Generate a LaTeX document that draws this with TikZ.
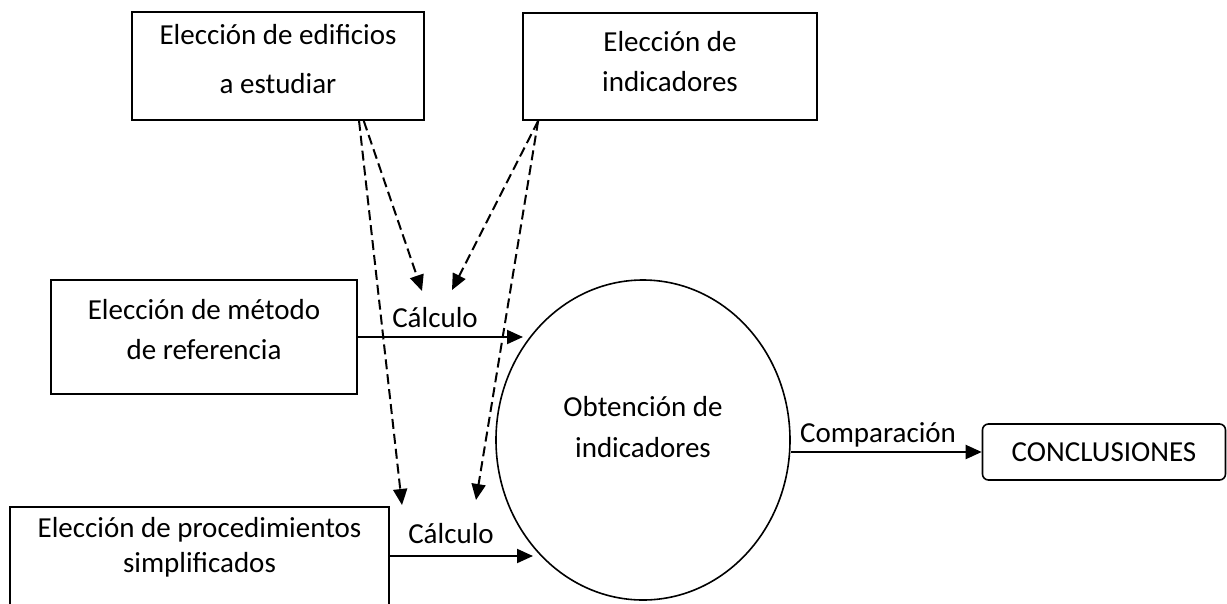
\documentclass[tikz,border=0pt]{standalone}
\usepackage{fontspec}
\setmainfont{Carlito}
\usetikzlibrary{arrows.meta,shapes.geometric,calc}
\newcommand\fs{\fontsize{29}{40}\selectfont}
\begin{document}
\begin{tikzpicture}[x=1pt,y=-1pt,
  box/.style={draw, line width=1.6pt, inner sep=0pt},
  txt/.style={font=\fs, align=center, inner sep=0pt},
  lbl/.style={font=\fs, inner sep=0pt, anchor=base},
  arr/.style={line width=2pt, -{Triangle[length=16pt,width=14pt]}},
  darr/.style={line width=2pt, dash pattern=on 10pt off 5pt, -{Triangle[length=16pt,width=14pt]}}]
\useasboundingbox (0,0) rectangle (1227,603);
% boxes
\node[box, minimum width=292, minimum height=108] (b1) at (278,66) {};
\node[txt] (t1) at (278,59) {Elección de edificios\\[9pt]a estudiar};
\node[box, minimum width=294, minimum height=107] (b2) at (670,66.5) {};
\node[txt] (t2) at (670,62) {Elección de\\indicadores};
\node[box, minimum width=306, minimum height=114] (b3) at (204,337) {};
\node[txt] (t3) at (204,330) {Elección de método\\de referencia};
\node[box, minimum width=379, minimum height=98] (b4) at (199.5,556) {};
\node[txt] (t4) at (199.5,547) {Elección de procedimientos\\[-5pt]simplificados};
\node[box, ellipse, minimum width=294, minimum height=320] (ell) at (643,440) {};
\node[txt] (t5) at (643,427) {Obtención de\\[1pt]indicadores};
\node[box, rounded corners=6pt, minimum width=243, minimum height=56, font=\fs] (conc) at (1104,452) {CONCLUSIONES};
% coordinates
\coordinate (s1) at ($(b1.south west)!0.776!(b1.south east)$);
\coordinate (s1b) at ($(b1.south west)!0.792!(b1.south east)$);
\coordinate (s2) at ($(b2.south west)!0.054!(b2.south east)$);
\coordinate (e1) at (402,505);
\coordinate (e2) at (422,291);
\coordinate (e3) at (452,290);
\coordinate (e4) at (476,500);
\coordinate (c1) at (523,337);
\coordinate (c2) at (533,556);
% arrows
\draw[arr] (b3.east) -- (c1);
\draw[arr] (b4.east) -- (c2);
\draw[arr] (ell.east |- conc.west) -- (conc.west);
\node[lbl] (l1) at (435,327) {Cálculo};
\node[lbl] (l2) at (451,543) {Cálculo};
\node[lbl] (l3) at (878,442) {Comparación};
\draw[darr] (s1) -- (e1);
\draw[darr] (s1b) -- (e2);
\draw[darr] (s2) -- (e3);
\draw[darr] (s2) -- (e4);
\end{tikzpicture}
\end{document}
